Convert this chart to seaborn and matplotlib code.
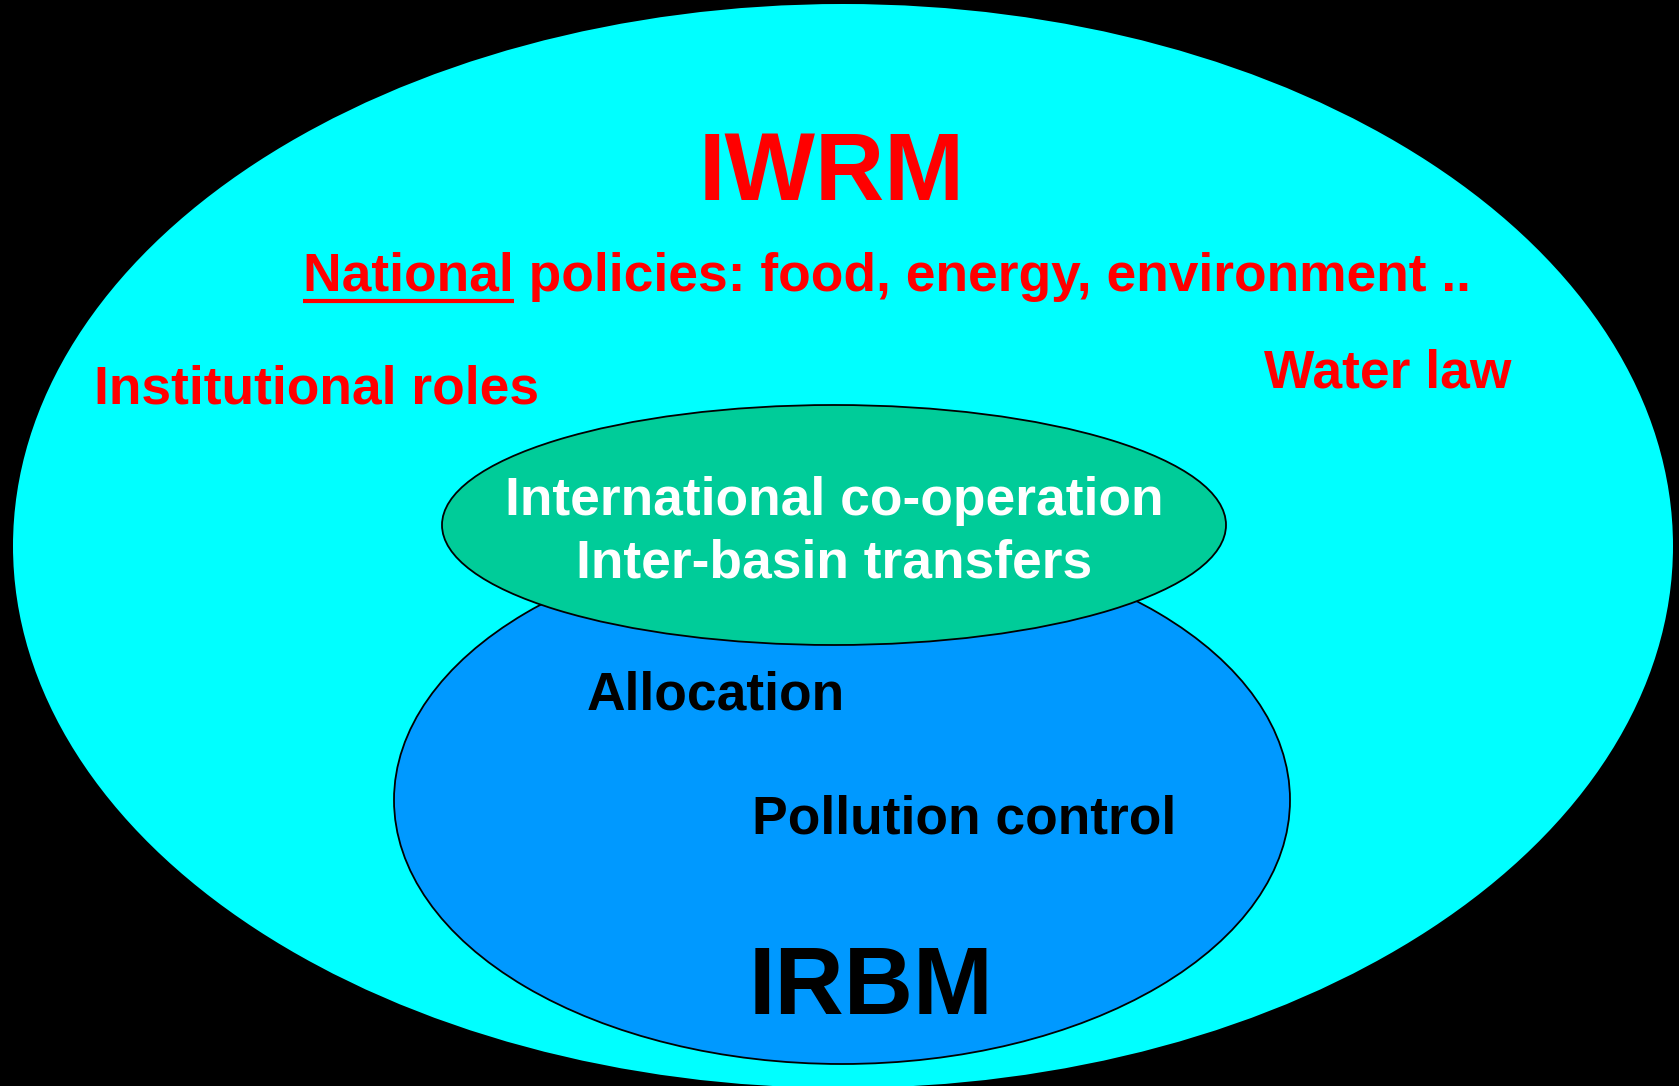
import matplotlib
matplotlib.use('Agg')
import matplotlib.pyplot as plt
import seaborn as sns
from matplotlib.patches import Ellipse

# Diagram data (pixel space of a 1679 x 1086 canvas)

circle_names = ['IWRM', 'IRBM', 'Transboundary']
circle_cx = [843, 842, 834]
circle_cy = [546, 800, 525]
circle_w = [1660, 896, 784]
circle_h = [1084, 528, 240]
circle_colors = ['#00FFFF', '#0099FF', '#00CC99']
circle_edges = ['none', 'black', 'black']

labels = ['IWRM', 'National policies: food, energy, environment ..', 'Institutional roles', 'Water law',
          'International co-operation', 'Inter-basin transfers', 'Allocation', 'Pollution control', 'IRBM']
label_x = [832, 303, 94, 1264, 834, 834, 587, 752, 871]
label_y = [200, 291, 403, 387, 515, 578, 709, 834, 1014]
label_ha = ['center', 'left', 'left', 'left', 'center', 'center', 'left', 'left', 'center']
label_size = [69, 38.4, 38.4, 38.4, 38.4, 38.4, 38.4, 38.4, 69]
label_color = ['#FF0000', '#FF0000', '#FF0000', '#FF0000', 'white', 'white', 'black', 'black', 'black']

sns.set_theme(style='white')
plt.rcParams['font.family'] = ['Liberation Sans', 'DejaVu Sans']

fig = plt.figure(figsize=(16.79, 10.86), dpi=100, facecolor='black')
ax = fig.add_axes([0, 0, 1, 1])
ax.set_facecolor('black')
ax.set_xlim(0, 1679)
ax.set_ylim(1086, 0)
ax.axis('off')

for cx, cy, w, h, c, e in zip(circle_cx, circle_cy, circle_w, circle_h, circle_colors, circle_edges):
    ax.add_patch(Ellipse((cx, cy), w, h, facecolor=c, edgecolor=e, linewidth=1.3))

for t, x, y, ha, s, c in zip(labels, label_x, label_y, label_ha, label_size, label_color):
    ax.text(x, y, t, ha=ha, va='baseline', fontsize=s, color=c, fontweight='bold')

# underline "National"
fig.canvas.draw()
probe = ax.text(label_x[1], label_y[1], 'National', ha='left', va='baseline',
                fontsize=label_size[1], fontweight='bold', alpha=0)
bb = probe.get_window_extent(renderer=fig.canvas.get_renderer())
x0, _ = ax.transData.inverted().transform((bb.x0, bb.y0))
x1, _ = ax.transData.inverted().transform((bb.x1, bb.y0))
ax.plot([x0, x1], [label_y[1] + 10, label_y[1] + 10], color='#FF0000', linewidth=3, solid_capstyle='butt')

fig.savefig('out.png', dpi=100, facecolor='black')
